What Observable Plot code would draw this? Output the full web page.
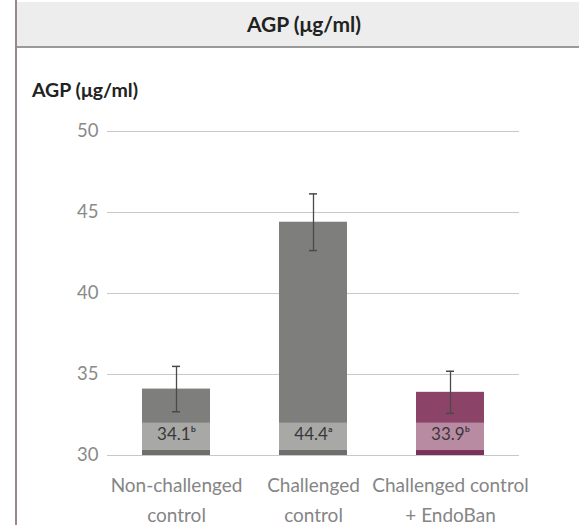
<!DOCTYPE html>
<html><head><meta charset="utf-8">
<script src="https://cdn.jsdelivr.net/npm/d3@7"></script>
<script src="https://cdn.jsdelivr.net/npm/@observablehq/plot@0.6"></script>
<style>
body{margin:0;background:#fff;}
#wrap{position:relative;width:579px;height:525px;overflow:hidden;font-family:Lato,"Open Sans",sans-serif;}
#lb{position:absolute;left:15px;top:0;width:2px;height:525px;background:#9b8493;}
#hdr{position:absolute;left:17px;top:2px;width:562px;height:44px;background:#ededed;border-bottom:2px solid #9a9a9a;text-align:center;font-weight:bold;font-size:21px;line-height:44px;color:#222;}
#hdr span{position:relative;left:6px;}
#ytitle{position:absolute;left:32px;top:80px;font-weight:bold;font-size:19.5px;line-height:20px;color:#222;white-space:nowrap;}
#chart{position:absolute;left:0;top:48px;}
</style></head>
<body>
<div id="wrap">
  <div id="hdr"><span>AGP (μg/ml)</span></div>
  <div id="lb"></div>
  <div id="ytitle">AGP (μg/ml)</div>
  <div id="chart"></div>
</div>
<script>
const categories = ["Non-challenged\ncontrol", "Challenged\ncontrol", "Challenged control\n+ EndoBan"];
const means = [34.1, 44.4, 33.9];
const errors = [1.4, 1.75, 1.3];
const letters = ["ᵇ", "ᵃ", "ᵇ"];
const yTicks = [30, 35, 40, 45, 50];
const barColors = ["#7e7f7c", "#7e7f7c", "#8b4368"];
const bandColors = ["#a8a9a6", "#a8a9a6", "#b98ba3"];
const stripColors = ["#6e6f6c", "#6e6f6c", "#7a3358"];

const data = categories.map((c, i) => ({
  cat: c, mean: means[i], se: errors[i], letter: letters[i],
  fill: barColors[i], band: bandColors[i], strip: stripColors[i]
}));
const yMin = yTicks[0];

const chart = Plot.plot({
  width: 579,
  height: 477,
  marginTop: 83,
  marginBottom: 70,
  marginLeft: 107,
  marginRight: 60,
  style: {fontFamily: 'Lato,"Open Sans",sans-serif', background: "transparent"},
  x: {domain: categories, paddingInner: 0.505, paddingOuter: 0.25, label: null},
  y: {domain: [yTicks[0], yTicks[yTicks.length - 1]], label: null},
  marks: [
    Plot.gridY(yTicks, {stroke: "#c8c8c8", strokeOpacity: 1}),
    Plot.barY(data, {x: "cat", y1: yMin, y2: "mean", fill: "fill"}),
    Plot.barY(data, {x: "cat", y1: yMin + 0.3, y2: yMin + 2.0, fill: "band"}),
    Plot.barY(data, {x: "cat", y1: yMin, y2: yMin + 0.3, fill: "strip"}),
    Plot.ruleX(data, {x: "cat", y1: d => d.mean - d.se, y2: d => d.mean + d.se, stroke: "#4a4a4a", strokeWidth: 1.3}),
    Plot.tickY(data, {x: "cat", y: d => d.mean + d.se, stroke: "#4a4a4a", strokeWidth: 1.5, insetLeft: 30, insetRight: 30}),
    Plot.tickY(data, {x: "cat", y: d => d.mean - d.se, stroke: "#4a4a4a", strokeWidth: 1.5, insetLeft: 30, insetRight: 30}),
    Plot.text(data, {x: "cat", y: yMin + 1.3, text: d => d.mean.toFixed(1) + d.letter, fontSize: 17, fill: "#383838"}),
    Plot.axisY({ticks: yTicks, tickSize: 0, tickPadding: 9, fontSize: 18.5, color: "#8a8a8a", label: null}),
    Plot.axisX({tickSize: 0, tickPadding: 16, fontSize: 19, lineHeight: 1.55, color: "#858585", label: null})
  ]
});
document.getElementById("chart").appendChild(chart);
</script>
</body></html>
